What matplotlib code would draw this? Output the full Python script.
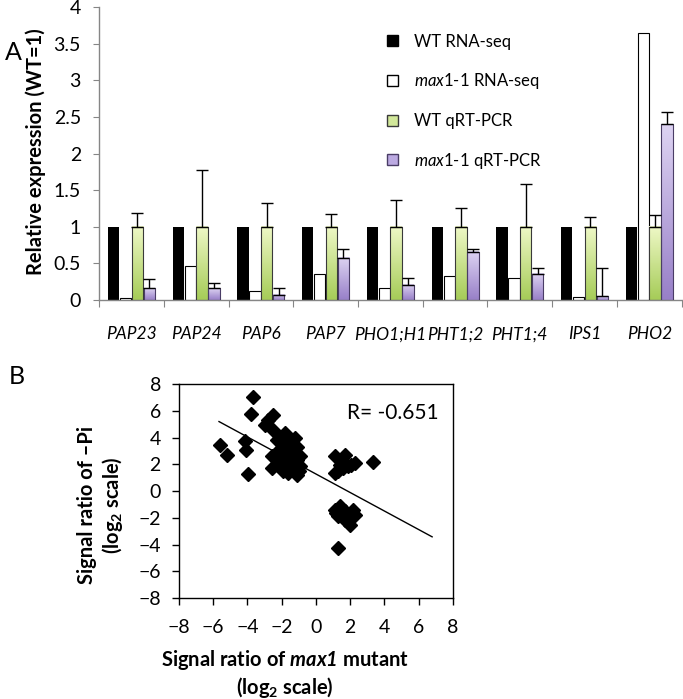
import numpy as np
import matplotlib
matplotlib.use("Agg")
import matplotlib.pyplot as plt
from matplotlib.colors import LinearSegmentedColormap
from matplotlib.patches import Patch

plt.rcParams['font.family'] = ['Lato', 'DejaVu Sans']
plt.rcParams['mathtext.fontset'] = 'custom'
plt.rcParams['mathtext.rm'] = 'Lato'
plt.rcParams['mathtext.it'] = 'Lato:italic'
plt.rcParams['mathtext.bf'] = 'Lato:bold'
plt.rcParams['mathtext.bfit'] = 'Lato:italic:bold'

# panel A data
genes = ['PAP23', 'PAP24', 'PAP6', 'PAP7', 'PHO1;H1', 'PHT1;2', 'PHT1;4', 'IPS1', 'PHO2']
wt_rnaseq = [1, 1, 1, 1, 1, 1, 1, 1, 1]
mut_rnaseq = [0.03, 0.46, 0.12, 0.36, 0.17, 0.33, 0.30, 0.04, 3.65]
wt_qpcr = [1, 1, 1, 1, 1, 1, 1, 1, 1]
wt_qpcr_err = [0.19, 0.77, 0.32, 0.18, 0.36, 0.26, 0.58, 0.13, 0.16]
mut_qpcr = [0.16, 0.16, 0.07, 0.58, 0.21, 0.66, 0.36, 0.05, 2.40]
mut_qpcr_err = [0.13, 0.075, 0.09, 0.12, 0.09, 0.03, 0.08, 0.39, 0.17]

# panel B data
mut_ratio = [-3.7, -3.81, -2.49, -2.78, -2.98, -5.6, -5.21, -4.15, -4.06, -3.95,
             -2.49, -2.29, -1.81, -1.23, -1.13, -2.59, -2.59, -2.0, -1.81, -1.52,
             -2.0, -1.62, -1.13, -0.93, -1.62, -1.13, -2.2, -1.33, -0.93, -1.91,
             -1.45, -1.75, -2.3, -1.0, -1.4,
             1.11, 1.69, 2.28, 3.35, 1.31, 1.6, 1.89, 2.08, 1.4, 1.11,
             1.11, 1.4, 1.69, 2.18, 1.31, 1.69, 1.98, 2.28, 1.5, 1.31, 1.2]
pi_ratio = [7.03, 5.78, 5.71, 5.34, 4.96, 3.47, 2.72, 3.72, 3.1, 1.31,
            4.59, 3.84, 4.34, 3.97, 3.34, 2.6, 1.73, 3.22, 2.6, 2.97,
            2.1, 1.98, 2.35, 1.85, 1.36, 1.23, 2.97, 2.72, 2.6, 1.5,
            2.2, 3.6, 2.4, 1.5, 1.7,
            2.6, 2.72, 2.1, 2.15, 1.48, 1.73, 1.85, 1.98, 1.98, 1.36,
            -1.38, -1.13, -1.5, -1.38, -1.88, -2.13, -2.5, -1.75, -1.6, -4.24, -1.6]
fit_x = [-5.66, 6.79]
fit_y = [5.21, -3.42]

fig = plt.figure(figsize=(6.83, 6.99), dpi=100)

# ---------- panel A ----------
axA = fig.add_axes([0.145, 0.5708, 0.853, 0.4192])
x = np.arange(len(genes))
w = 0.175
gray = '#868686'

axA.bar(x - 0.275, wt_rnaseq, w, color='black', zorder=2)
axA.bar(x - 0.09, mut_rnaseq, w, color='white', edgecolor='black', linewidth=0.8, zorder=2)
green_bars = axA.bar(x + 0.09, wt_qpcr, w, color='none', edgecolor='#3a3a3a', linewidth=0.8, zorder=3)
purple_bars = axA.bar(x + 0.275, mut_qpcr, w, color='none', edgecolor='#4a3d66', linewidth=0.8, zorder=3)

green_cmap = LinearSegmentedColormap.from_list('g', ['#a6cc58', '#eef8c6'])
purple_cmap = LinearSegmentedColormap.from_list('p', ['#9880c8', '#ddd3f2'])
grad = np.linspace(0, 1, 64).reshape(-1, 1)
for bars, cm in [(green_bars, green_cmap), (purple_bars, purple_cmap)]:
    for b in bars:
        x0, y0, bw, bh = b.get_x(), b.get_y(), b.get_width(), b.get_height()
        axA.imshow(grad, extent=[x0, x0 + bw, y0, y0 + bh], origin='lower',
                   aspect='auto', cmap=cm, zorder=2.5)

axA.errorbar(x + 0.09, wt_qpcr, yerr=[np.zeros(len(x)), wt_qpcr_err], fmt='none',
             ecolor='black', elinewidth=1, capsize=4, capthick=1, zorder=4)
axA.errorbar(x + 0.275, mut_qpcr, yerr=[np.zeros(len(x)), mut_qpcr_err], fmt='none',
             ecolor='black', elinewidth=1, capsize=4, capthick=1, zorder=4)

axA.set_xlim(-0.5, 8.5)
axA.set_ylim(0, 4)
axA.set_yticks(np.arange(0, 4.01, 0.5))
axA.set_yticklabels(['%g' % v for v in np.arange(0, 4.01, 0.5)], fontsize=14)
axA.set_xticks(np.arange(-0.5, 8.6, 1))
axA.set_xticklabels([])
axA.set_xticks(x, minor=True)
axA.set_xticklabels(genes, minor=True, fontsize=12.5, fontstyle='italic')
axA.tick_params(axis='x', which='minor', length=0, pad=19)
axA.tick_params(axis='x', which='major', length=5, color=gray, direction='out')
axA.tick_params(axis='y', length=4, color=gray, direction='out', pad=9)
for s in ['top', 'right']:
    axA.spines[s].set_visible(False)
for s in ['left', 'bottom']:
    axA.spines[s].set_color(gray)
    axA.spines[s].set_linewidth(1)

handles = [Patch(facecolor='black', edgecolor='black'),
           Patch(facecolor='white', edgecolor='black'),
           Patch(facecolor='#d2e89a', edgecolor='#3a3a3a'),
           Patch(facecolor='#bcaae2', edgecolor='#4a3d66')]
labels = ['WT RNA-seq', r'$\mathit{max1}$-$\mathit{1}$ RNA-seq', 'WT qRT-PCR',
          r'$\mathit{max1}$-$\mathit{1}$ qRT-PCR']
fig.legend(handles, labels, loc='upper left', bbox_to_anchor=(380 / 683, 1 - 27 / 699),
           frameon=False, fontsize=12, handlelength=0.65, handleheight=0.65,
           handletextpad=1.0, labelspacing=1.3, borderaxespad=0)

fig.text(36 / 683, 1 - 152 / 699, 'Relative expression (WT=1)', rotation=90,
         ha='center', va='center', fontsize=14.5, fontweight='bold')
fig.text(13 / 683, 1 - 52 / 699, 'A', ha='center', va='center', fontsize=18)

# ---------- panel B ----------
axB = fig.add_axes([0.262, 0.1445, 0.401, 0.3057])
axB.plot(fit_x, fit_y, color='black', linewidth=1, zorder=2)
axB.plot(mut_ratio, pi_ratio, linestyle='none', marker='D', markersize=7.2,
         color='black', zorder=3)
axB.set_xlim(-8, 8)
axB.set_ylim(-8, 8)
axB.set_xticks(np.arange(-8, 9, 2))
axB.set_yticks(np.arange(-8, 9, 2))
axB.tick_params(axis='both', labelsize=14, direction='out', length=5, width=1)
axB.tick_params(axis='x', pad=10)
axB.tick_params(axis='y', pad=8)
for s in axB.spines.values():
    s.set_linewidth(1)
axB.text(347 / 683, 1 - 413 / 699, 'R= -0.651', transform=fig.transFigure,
         ha='left', va='center', fontsize=15)

fig.text(101 / 683, 1 - 505 / 699, 'Signal ratio of \u2013Pi\n(log$_\\mathbf{2}$ scale)',
         rotation=90, ha='center', va='center', fontsize=14.5, fontweight='bold',
         multialignment='center', linespacing=1.2)
fig.text(285 / 683, 1 - 674 / 699,
         'Signal ratio of $\\mathbfit{max1}$ mutant\n(log$_\\mathbf{2}$ scale)',
         ha='center', va='center', fontsize=14.5, fontweight='bold',
         multialignment='center', linespacing=1.2)
fig.text(17 / 683, 1 - 377 / 699, 'B', ha='center', va='center', fontsize=18)

fig.savefig('out.png', dpi=100)
